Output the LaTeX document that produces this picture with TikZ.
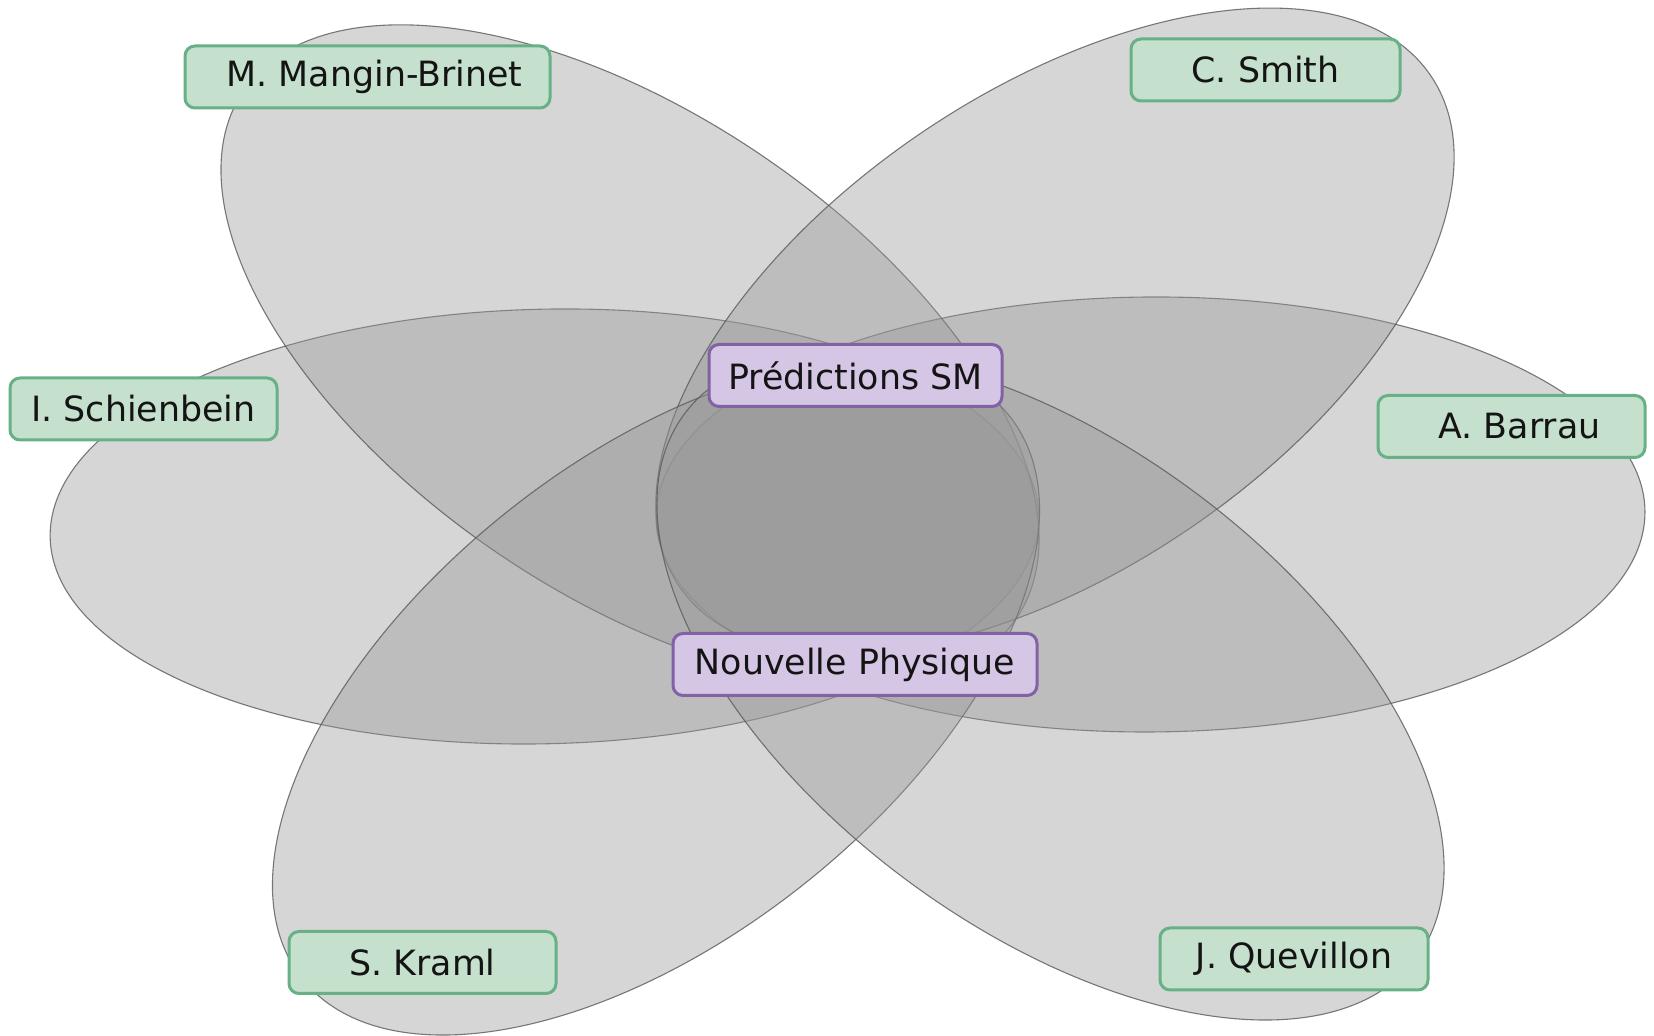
\documentclass[tikz,border=0pt]{standalone}
\usepackage{fontspec}
\setmainfont{DejaVu Sans}
\definecolor{petalfill}{RGB}{152,152,152}
\definecolor{petalline}{RGB}{90,90,90}
\definecolor{namefill}{RGB}{197,224,204}
\definecolor{nameline}{RGB}{104,176,134}
\definecolor{topicfill}{RGB}{212,198,228}
\definecolor{topicline}{RGB}{130,98,165}
\begin{document}
\begin{tikzpicture}[x=0.5pt,y=0.5pt,
  petal/.style={draw=petalline, draw opacity=0.8, line width=0.55pt,
    fill=petalfill, fill opacity=0.4},
  tag/.style={rounded corners=5pt, line width=1.5pt, inner sep=0pt,
    minimum height=31pt, font=\fontsize{17.4pt}{20pt}\selectfont, text=black!92},
  namebox/.style={tag, draw=nameline, fill=namefill},
  topicbox/.style={tag, draw=topicline, fill=topicfill}]
\useasboundingbox (0,0) rectangle (1654,1036);

% six overlapping petals around the common core
\path[petal, shift={(544.5,509.5)}, rotate=1.3]  (0,0) ellipse [x radius=494.5, y radius=217.3];
\path[petal, shift={(1150.5,521.5)}, rotate=0.35] (0,0) ellipse [x radius=494.5, y radius=217.5];
\path[petal, shift={(630,681.5)}, rotate=-34.4]   (0,0) ellipse [x radius=467.9, y radius=238.7];
\path[petal, shift={(1055,705)}, rotate=34.2]     (0,0) ellipse [x radius=454.3, y radius=239];
\path[petal, shift={(656,338.4)}, rotate=38.5]    (0,0) ellipse [x radius=451.9, y radius=238.1];
\path[petal, shift={(1050.5,350)}, rotate=-36.6]  (0,0) ellipse [x radius=456.1, y radius=241.6];

% names on the outer ends of the petals
\node[namebox, minimum width=182.5pt] (mb) at (367.5,959)  {\hspace{7pt}M. Mangin-Brinet};
\node[namebox, minimum width=134.5pt] (cs) at (1265.5,966) {C. Smith};
\node[namebox, minimum width=133.5pt] (is) at (143.5,627)  {I. Schienbein};
\node[namebox, minimum width=133.5pt] (ab) at (1511.5,609.5) {\hspace{8pt}A. Barrau};
\node[namebox, minimum width=133.5pt] (sk) at (422.5,73.5) {S. Kraml};
\node[namebox, minimum width=134pt]   (jq) at (1294,77)    {J. Quevillon};

% shared topics in the middle
\node[topicbox, minimum width=146.5pt] (psm) at (855.5,660.5) {Prédictions SM};
\node[topicbox, minimum width=182pt]   (np)  at (855,371.5)   {Nouvelle Physique};
\end{tikzpicture}
\end{document}
